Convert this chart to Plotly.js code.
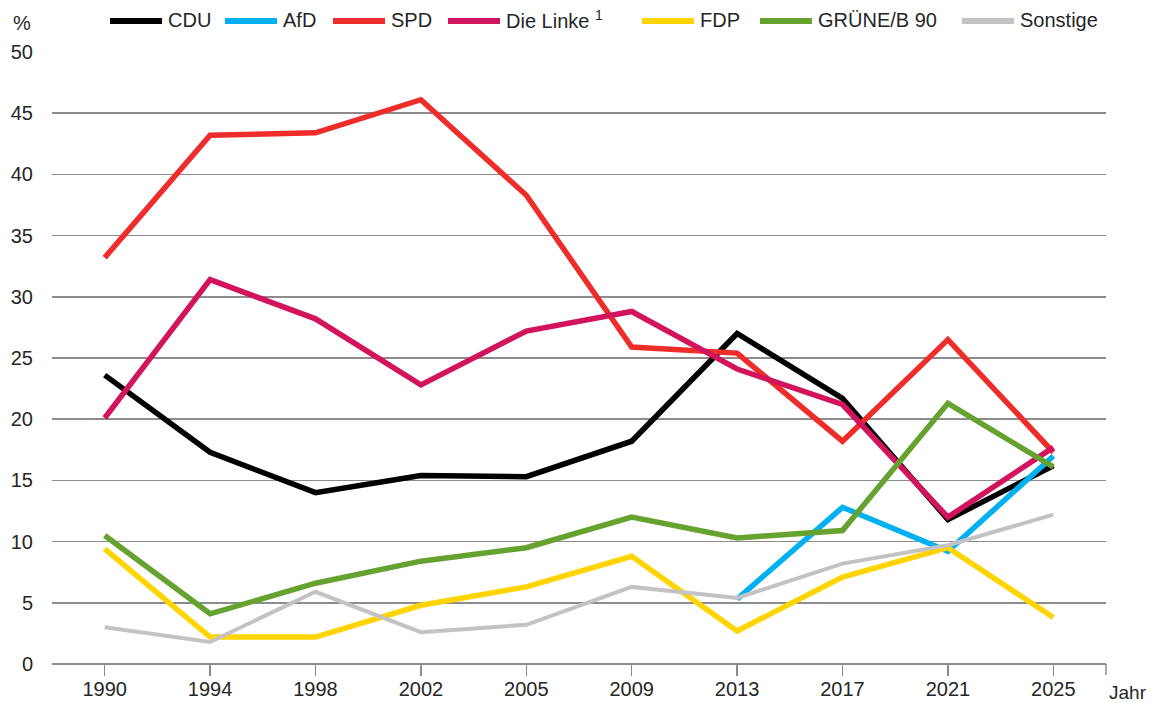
<!DOCTYPE html>
<html>
<head>
<meta charset="utf-8">
<script src="https://cdn.plot.ly/plotly-3.0.1.min.js"></script>
<style>
html,body{margin:0;padding:0;background:#fff;}
#chart{width:1152px;height:702px;}
</style>
</head>
<body>
<div id="chart"></div>
<script>
const years = ['1990','1994','1998','2002','2005','2009','2013','2017','2021','2025'];
const seriesNames = ['CDU','AfD','SPD','Die Linke <sup>1</sup>','FDP','GR\u00DCNE/B 90','Sonstige'];
const seriesColors = ['#000000','#00b0f0','#ee2d2b','#d2145f','#ffd400','#65a22f','#c3c3c3'];
const cdu      = [23.6, 17.3, 14.0, 15.4, 15.3, 18.2, 27.0, 21.7, 11.8, 16.2];
const afd      = [null, null, null, null, null, null, 5.3, 12.8, 9.2, 17.0];
const spd      = [33.2, 43.2, 43.4, 46.1, 38.3, 25.9, 25.4, 18.2, 26.5, 17.3];
const linke    = [20.1, 31.4, 28.2, 22.8, 27.2, 28.8, 24.1, 21.2, 12.0, 17.7];
const fdp      = [9.4, 2.2, 2.2, 4.8, 6.3, 8.8, 2.7, 7.1, 9.5, 3.8];
const gruene   = [10.5, 4.1, 6.6, 8.4, 9.5, 12.0, 10.3, 10.9, 21.3, 16.1];
const sonstige = [3.0, 1.8, 5.9, 2.6, 3.2, 6.3, 5.4, 8.2, 9.7, 12.2];
const yTicks = [0,5,10,15,20,25,30,35,40,45,50];

const allSeries = [cdu, afd, spd, linke, fdp, gruene, sonstige];
const FONT = 'Liberation Sans, Arial, sans-serif';
const TXT = '#262626';
const FS = 20;

const traces = allSeries.map((vals, i) => ({
  type: 'scatter', mode: 'lines',
  x: years, y: vals, name: seriesNames[i],
  line: {color: seriesColors[i], width: i === 6 ? 4 : 5.5},
  connectgaps: false,
  showlegend: false,
  hoverinfo: 'skip'
}));

// custom legend (line samples + labels)
const legendStarts = [110, 225, 333, 448, 642, 760, 962];
const shapes = [];
const annotations = [];
legendStarts.forEach((x0, i) => {
  shapes.push({type:'line', xref:'paper', yref:'paper',
    xsizemode:'pixel', ysizemode:'pixel', xanchor:0, yanchor:1,
    x0: x0 - 52, x1: x0 - 52 + 52, y0: 31, y1: 31,
    line:{color: seriesColors[i], width: 6}, layer:'above'});
  annotations.push({xref:'paper', yref:'paper', x:(x0 + 56 - 52)/1054, y:1 + 32/612,
    xanchor:'left', yanchor:'middle', showarrow:false,
    text: seriesNames[i], font:{family:FONT, size:FS, color:TXT}});
});
// end tick on the right of the x axis
shapes.push({type:'line', xref:'paper', yref:'paper', ysizemode:'pixel', yanchor:0,
  x0:1, x1:1, y0:0, y1:-11, line:{color:'#8c8c8c', width:1.5}});

annotations.push({xref:'paper', yref:'paper', x:-30/1054, y:1 + 29/612,
  xanchor:'center', yanchor:'middle', showarrow:false, text:'%',
  font:{family:FONT, size:FS, color:TXT}});
annotations.push({xref:'paper', yref:'paper', x:1 + 1/1054, y:-28/612,
  xanchor:'left', yanchor:'middle', showarrow:false, text:'Jahr',
  font:{family:FONT, size:19, color:TXT}});

const layout = {
  width:1152, height:702,
  margin:{l:52, r:46, t:52, b:38, pad:0},
  paper_bgcolor:'#ffffff', plot_bgcolor:'#ffffff',
  font:{family:FONT, size:FS, color:TXT},
  showlegend:false,
  xaxis:{
    type:'category', range:[-0.5, 9.5],
    showgrid:false, zeroline:false, showline:false,
    ticks:'outside', ticklen:11, tickwidth:1.5, tickcolor:'#8c8c8c',
    ticklabelstandoff:-4,
    tickfont:{family:FONT, size:FS, color:TXT},
    fixedrange:true
  },
  yaxis:{
    range:[0, 50], tickvals:yTicks, ticktext:yTicks.map(String),
    showgrid:true, gridcolor:'#8c8c8c', gridwidth:1.5,
    zeroline:true, zerolinecolor:'#8c8c8c', zerolinewidth:1.5,
    showline:false, ticks:'', ticklabelstandoff:18,
    tickfont:{family:FONT, size:FS, color:TXT},
    fixedrange:true
  },
  shapes: shapes,
  annotations: annotations
};

Plotly.newPlot('chart', traces, layout, {displayModeBar:false, staticPlot:true});
</script>
</body>
</html>
